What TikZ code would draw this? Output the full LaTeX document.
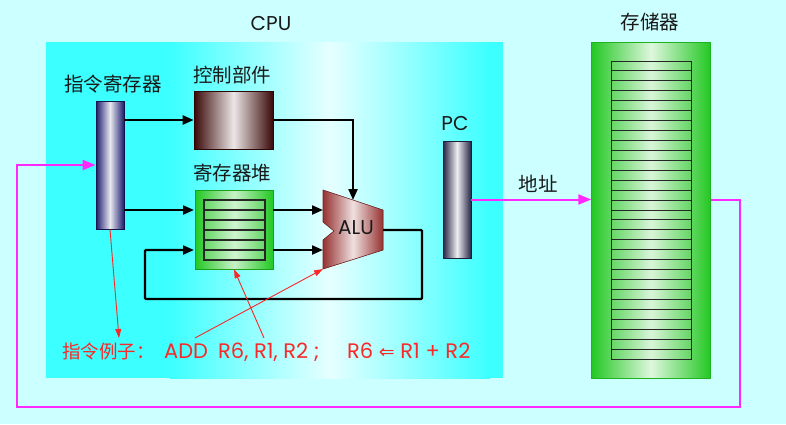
\documentclass[tikz,border=0pt]{standalone}
\usepackage{fontspec}
\setmainfont{Poppins}
\newfontfamily\cjk{Noto Sans CJK SC}
\newfontfamily\djv{DejaVu Sans}
\usetikzlibrary{arrows.meta}
\definecolor{bgc}{RGB}{204,255,255}
\definecolor{cpuc}{RGB}{60,255,255}
\definecolor{cpul}{RGB}{230,255,255}
\definecolor{navyc}{RGB}{28,28,110}
\definecolor{brownc}{RGB}{58,8,8}
\definecolor{aluc}{RGB}{150,50,50}
\definecolor{greenc}{RGB}{34,200,34}
\definecolor{lgreen}{RGB}{100,215,100}
\definecolor{pcc}{RGB}{36,36,70}
\definecolor{mag}{RGB}{255,40,255}
\definecolor{redt}{RGB}{250,40,40}
\definecolor{txt}{RGB}{25,25,25}
\tikzset{
  cjklabel/.style={font=\cjk\fontsize{19.5}{22}\selectfont, text=txt, inner sep=0},
  latlabel/.style={font=\fontsize{20}{22}\selectfont, text=txt, inner sep=0},
  redcjk/.style={font=\cjk\fontsize{18.5}{20}\selectfont, text=redt, inner sep=0, anchor=base west},
  redlat/.style={font=\fontsize{21}{24}\selectfont, text=redt, inner sep=0, anchor=base west},
  irbox/.style={draw=navyc!70!black, line width=0.8pt, left color=navyc, right color=navyc, middle color=white!90!navyc, minimum width=28pt, minimum height=128pt, inner sep=0},
  ctrlbox/.style={draw=brownc!80!black, line width=0.6pt, left color=brownc, right color=brownc, middle color=white!90!brownc, minimum width=79pt, minimum height=58pt, inner sep=0},
  rfbox/.style={draw=greenc!80!black, line width=0.4pt, left color=greenc, right color=greenc, middle color=white!75!greenc, minimum width=78pt, minimum height=79pt, inner sep=0},
  pcbox/.style={draw=pcc!80!black, line width=0.8pt, left color=pcc, right color=pcc, middle color=white!92!pcc, minimum width=28pt, minimum height=117pt, inner sep=0},
  membox/.style={draw=greenc!90!black, line width=0.4pt, left color=greenc, right color=greenc, middle color=white!85!greenc, minimum width=119pt, minimum height=336pt, inner sep=0},
  blk/.style={line width=2.2pt, draw=black, -{Triangle[length=11pt,width=9pt]}},
  mg/.style={line width=2pt, draw=mag, -{Triangle[length=13pt,width=10pt]}},
  rd/.style={line width=0.9pt, draw=redt, -{Triangle[length=9pt,width=6pt]}}
}
\begin{document}
\begin{tikzpicture}[x=1pt,y=-1pt]
\useasboundingbox (0,0) rectangle (786,424);
\fill[bgc] (0,0) rectangle (786,424);
% CPU box
\fill[cpuc] (46,42) rectangle (503,378);
\fill[left color=cpuc, right color=cpuc, middle color=cpul] (170,42) rectangle (490,378);
% labels
\node[latlabel] (cpulbl) at (271,24) {CPU};
\node[cjklabel] (memlbl) at (650,22) {存储器};
\node[cjklabel] (irlbl) at (113,84) {指令寄存器};
\node[cjklabel] (ctrllbl) at (232,75) {控制部件};
\node[cjklabel] (rflbl) at (232,173) {寄存器堆};
\node[latlabel] (pclbl) at (455,123) {PC};
\node[cjklabel] (addrlbl) at (538,184) {地址};
% boxes
\node[irbox] (ir) at (110,165) {};
\node[ctrlbox] (ctrl) at (233.5,120) {};
\node[rfbox] (rf) at (234,229.5) {};
\node[pcbox] (pc) at (457,199.5) {};
\node[membox] (mem) at (651,210) {};
% register file rows
\fill[left color=lgreen, right color=lgreen, middle color=white!70!lgreen] (204,200) rectangle (265,260);
\draw[line width=1.1pt, black!85] (204,200) rectangle (265,260);
\foreach \i in {1,...,5} \draw[line width=1.1pt, black!85] (204,{200+\i*10}) -- (265,{200+\i*10});
% memory rows
\fill[left color=lgreen, right color=lgreen, middle color=white!75!lgreen] (611,61) rectangle (691,359);
\draw[line width=0.9pt, black!85] (611,61) rectangle (691,359);
\foreach \i in {1,...,29} \draw[line width=0.9pt, black!85] (611,{61+\i*9.933}) -- (691,{61+\i*9.933});
% ALU
\fill[left color=aluc, right color=aluc, middle color=white!85!aluc, draw=aluc!80!black, line width=0.6pt]
  (323,190) -- (383,210) -- (383,250) -- (323,269) -- (323,240) -- (334,231) -- (323,222) -- cycle;
\node[font=\fontsize{20}{22}\selectfont, text=txt, inner sep=0] (alu) at (356,228) {ALU};
\coordinate (alutop) at (353,200);
\coordinate (aluin1) at (323,210);
\coordinate (aluin2) at (323,250);
\coordinate (aluout) at (383,230);
\coordinate (alubl) at (323,269);
\coordinate (rfa) at (194,210);
\coordinate (rfb) at (194,250);
\coordinate (rfoa) at (273,210);
\coordinate (rfob) at (273,250);
\coordinate (loopa) at (422,299);
\coordinate (loopb) at (145,250);
% black connectors
\draw[blk] (ir.east |- ctrl.west) -- (ctrl.west);
\draw[blk] (ir.east |- rfa) -- (rfa);
\draw[blk] (ctrl.east) -| (alutop);
\draw[blk] (rfoa) -- (aluin1);
\draw[blk] (rfob) -- (aluin2);
\draw[blk, rounded corners=1pt] (aluout) -| (loopa) -| (loopb) -- (rfb);
% magenta connectors
\coordinate (ret1) at (740,407);
\coordinate (ret2) at (17,165);
\draw[mg] (pc.east) -- (pc.east -| mem.west);
\draw[mg] (mem.east |- pc.east) -| (ret1) -| (ret2) -- (ir.west);
% red example text
\node[redcjk] (ex1) at (62,358) {指令例子：};
\node[redlat] (ex2) at (164,358) {ADD};
\node[redlat] (ex3) at (218,358) {R6, R1, R2 ;};
\node[redlat] (ex4) at (347,358) {R6 {\djv\fontsize{19}{22}\selectfont ⇐} R1 + R2};
\coordinate (exa) at (119,338);
\coordinate (exb) at (264,338);
\coordinate (exc) at (195,338);
\draw[rd] (ir.south) -- (exa);
\draw[rd] (exb) -- (rf.south);
\draw[rd] (exc) -- (alubl);
\end{tikzpicture}
\end{document}
